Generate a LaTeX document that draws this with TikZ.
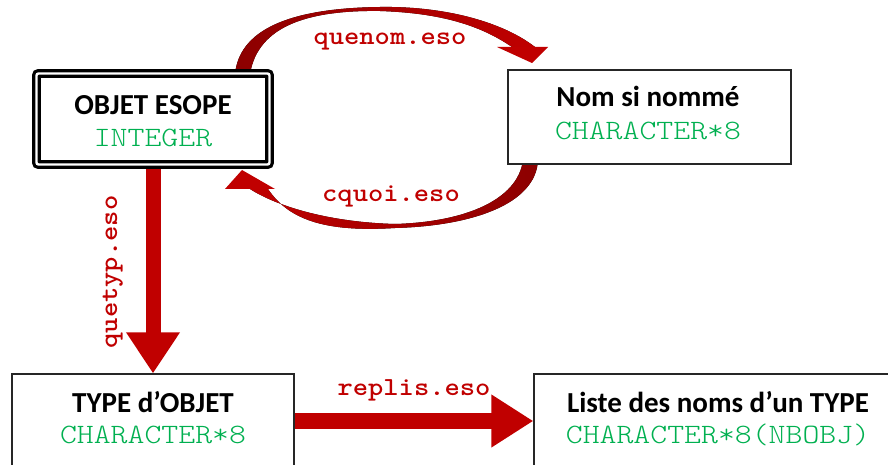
\documentclass[tikz,border=0pt]{standalone}
\usepackage{fontspec}
\setmainfont{Carlito}
\newfontfamily\codefont[FakeStretch=1.15]{lmmonolt10-regular.otf}
\newfontfamily\lblfont[FakeStretch=1.12]{lmmonolt10-bold.otf}
\usetikzlibrary{arrows.meta,backgrounds}
\definecolor{arrred}{RGB}{192,0,0}
\definecolor{arrdark}{RGB}{140,0,0}
\definecolor{codegreen}{RGB}{0,176,80}
\tikzset{
  box/.style={draw=black!85, line width=1.3pt, fill=white, inner sep=0pt},
  dbox/.style={draw=black, line width=3.2pt, double=white, double distance=2.4pt, rounded corners=2pt, fill=white, inner sep=0pt},
  ttl/.style={font=\fontsize{29}{31}\selectfont\bfseries, anchor=base, inner sep=0pt},
  code/.style={font=\codefont\fontsize{28}{30}\selectfont, text=codegreen, anchor=base, inner sep=0pt},
  lbl/.style={font=\lblfont\fontsize{26}{28}\selectfont, text=arrred, anchor=base, inner sep=0pt},
  straight/.style={draw=arrred, line width=#1},
  headfill/.style={fill=arrred, draw=none}
}
\begin{document}
\begin{tikzpicture}[x=1pt,y=-1pt]
\useasboundingbox (0,0) rectangle (888,465);
\clip (0,0) rectangle (888,465);

% boxes
\node[dbox, minimum width=233pt, minimum height=91pt] (obj) at (153,119) {};
\node[box, minimum width=283pt, minimum height=94pt] (nom) at (649.5,117) {};
\node[box, minimum width=282pt, minimum height=94pt] (type) at (153,421) {};
\node[box, minimum width=368pt, minimum height=94pt] (liste) at (718,421) {};

% texts
\node[ttl] (objT) at (153,115) {OBJET ESOPE};
\node[code] (objC) at (153,147) {INTEGER};
\node[ttl] (nomT) at (648,107) {Nom si nommé};
\node[code] (nomC) at (648,140) {CHARACTER*8};
\node[ttl] (typeT) at (153,412) {TYPE d’OBJET};
\node[code] (typeC) at (153,443) {CHARACTER*8};
\node[ttl] (listeT) at (718,412) {Liste des noms d’un TYPE};
\node[code] (listeC) at (718,443) {CHARACTER*8(NBOBJ)};

% arrows (behind boxes)
\begin{scope}[on background layer]
  \draw[straight=15pt, -{Triangle[length=41pt, width=51pt]}] (obj.south) -- (type.north);
  \draw[straight=16pt, -{Triangle[length=42pt, width=50pt]}] (type.east) -- (liste.west);
  % quenom curved arrow
  \fill[left color=arrdark, right color=arrred]
    (235,74) .. controls (240,25) and (300,8) .. (380,7)
    .. controls (440,6) and (500,20) .. (535,47)
    -- (512,47) .. controls (480,25) and (440,13) .. (380,11)
    .. controls (310,10) and (258,25) .. (250,74) -- cycle;
  \fill[headfill] (497,47) -- (548,47) -- (532,63) -- cycle;
  % cquoi curved arrow
  \fill[left color=arrred, right color=arrdark]
    (538,160) .. controls (536,205) and (470,226) .. (395,228)
    .. controls (330,232) and (290,222) .. (268,189)
    -- (250,189) .. controls (275,205) and (325,222) .. (395,224)
    .. controls (465,222) and (518,200) .. (523,160) -- cycle;
  \fill[headfill] (225,189) -- (275,189) -- (242,170) -- cycle;
\end{scope}

% labels
\node[lbl] (lq) at (390,45) {quenom.eso};
\node[lbl] (lc) at (391,201) {cquoi.eso};
\node[lbl] (lr) at (414,395) {replis.eso};
\node[lbl, rotate=90] (lt) at (117,272) {quetyp.eso};
\end{tikzpicture}
\end{document}
